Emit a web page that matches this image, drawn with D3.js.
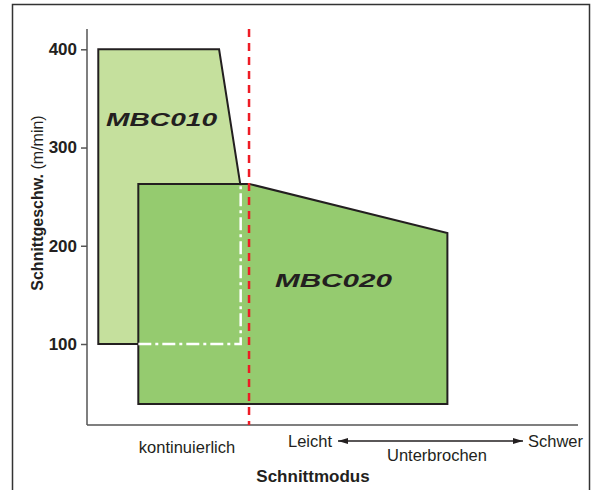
<!DOCTYPE html>
<html>
<head>
<meta charset="utf-8">
<script src="https://cdn.jsdelivr.net/npm/d3@7"></script>
<style>
  body { margin: 0; background: #fff; }
  svg text { font-family: "Liberation Sans", Arial, sans-serif; fill: #231f20; }
</style>
</head>
<body>
<div id="chart"></div>
<script>
// Chart values (x in arbitrary "Schnittmodus" units 0-100, y in m/min)
const yTicks = [100, 200, 300, 400];
const mbc010 = [[2.3, 400], [26.9, 400], [31.2, 263], [31.2, 100], [2.3, 100]];
const mbc020 = [[10.45, 263], [33.0, 263], [73.4, 213], [73.4, 39], [10.45, 39]];
const hiddenEdge = [[10.45, 100], [31.3, 100], [31.3, 263]];
const splitX = 33.0;
const seriesNames = ["MBC010", "MBC020"];
const labelPos = [[15.2, 322], [50.2, 158]];

const width = 591;
const height = 490;

const svg = d3.select('#chart').append('svg')
    .attr('width', width)
    .attr('height', height);

// outer frame
svg.append('rect')
    .attr('x', 12.5).attr('y', 4.5)
    .attr('width', 577).attr('height', 500)
    .attr('fill', 'none')
    .attr('stroke', '#333')
    .attr('stroke-width', 1.5);

const x = d3.scaleLinear().domain([0, 100]).range([87, 578]);
const y = d3.scaleLinear().domain([100, 400]).range([344, 49.3]);
const yTop = 29, yBottom = 425;

const line = d3.line().x(d => x(d[0])).y(d => y(d[1]));

// MBC010 area (behind)
svg.append('path')
    .attr('d', line(mbc010) + 'Z')
    .attr('fill', '#c5e09d')
    .attr('stroke', '#231f20')
    .attr('stroke-width', 2)
    .attr('stroke-linejoin', 'miter');

// MBC020 area (front)
svg.append('path')
    .attr('d', line(mbc020) + 'Z')
    .attr('fill', '#95cb6f')
    .attr('stroke', '#231f20')
    .attr('stroke-width', 2)
    .attr('stroke-linejoin', 'miter');

// hidden MBC010 boundary as white dash-dot
svg.append('path')
    .attr('d', line(hiddenEdge))
    .attr('fill', 'none')
    .attr('stroke', '#fff')
    .attr('stroke-width', 2.5)
    .attr('stroke-dasharray', '13,4,3,4');

// y axis
const yAxis = d3.axisLeft(y)
    .tickValues(yTicks)
    .tickSize(6)
    .tickPadding(4)
    .tickFormat(d3.format('d'));

const gy = svg.append('g')
    .attr('transform', `translate(${x(0)},0)`)
    .call(yAxis);
gy.select('.domain').remove();
gy.append('line')
    .attr('x1', 0).attr('x2', 0)
    .attr('y1', yTop).attr('y2', yBottom)
    .attr('stroke', '#555').attr('stroke-width', 1.5);
gy.selectAll('.tick line').attr('stroke', '#555').attr('stroke-width', 1.5);
gy.selectAll('.tick text')
    .style('font-family', '"Liberation Sans", Arial, sans-serif')
    .style('font-size', '17px')
    .style('font-weight', 'bold')
    .attr('fill', '#231f20');

// x axis line
svg.append('line')
    .attr('x1', x(0)).attr('x2', x(100))
    .attr('y1', yBottom).attr('y2', yBottom)
    .attr('stroke', '#555').attr('stroke-width', 1.5);

// red split line
svg.append('line')
    .attr('x1', x(splitX)).attr('x2', x(splitX))
    .attr('y1', yTop).attr('y2', yBottom)
    .attr('stroke', '#ee1c25')
    .attr('stroke-width', 2.5)
    .attr('stroke-dasharray', '8,6');

// series labels
svg.selectAll('.series-label')
    .data(seriesNames)
    .enter().append('text')
    .attr('class', 'series-label')
    .attr('x', (d, i) => x(labelPos[i][0]))
    .attr('y', (d, i) => y(labelPos[i][1]))
    .attr('text-anchor', 'middle')
    .attr('textLength', (d, i) => i ? 117 : 111)
    .attr('lengthAdjust', 'spacingAndGlyphs')
    .style('font-size', '18px')
    .style('font-weight', 'bold')
    .style('font-style', 'italic')
    .text(d => d);

// y axis title
const yTitle = svg.append('text')
    .attr('transform', 'translate(43,203) rotate(-90)')
    .attr('text-anchor', 'middle')
    .style('font-size', '16px');
yTitle.append('tspan').style('font-weight', 'bold').text('Schnittgeschw.');
yTitle.append('tspan').text(' (m/min)');

// x axis annotations
svg.append('text')
    .attr('x', 187).attr('y', 453)
    .attr('text-anchor', 'middle')
    .style('font-size', '16.5px')
    .text('kontinuierlich');

svg.append('text')
    .attr('x', 332).attr('y', 447)
    .attr('text-anchor', 'end')
    .style('font-size', '16.5px')
    .text('Leicht');

svg.append('text')
    .attr('x', 528).attr('y', 447)
    .style('font-size', '16.5px')
    .text('Schwer');

svg.append('text')
    .attr('x', 437).attr('y', 461)
    .attr('text-anchor', 'middle')
    .style('font-size', '16.5px')
    .text('Unterbrochen');

svg.append('text')
    .attr('x', 313).attr('y', 482)
    .attr('text-anchor', 'middle')
    .style('font-size', '17px')
    .style('font-weight', 'bold')
    .text('Schnittmodus');

// double-headed arrow
const defs = svg.append('defs');
['start', 'end'].forEach(k => {
    defs.append('marker')
        .attr('id', 'arrow-' + k)
        .attr('viewBox', '0 0 10 6')
        .attr('refX', k === 'end' ? 10 : 0)
        .attr('refY', 3)
        .attr('markerWidth', 10)
        .attr('markerHeight', 6)
        .attr('markerUnits', 'userSpaceOnUse')
        .attr('orient', 'auto')
        .append('path')
        .attr('d', k === 'end' ? 'M0,0L10,3L0,6Z' : 'M10,0L0,3L10,6Z')
        .attr('fill', '#231f20');
});
svg.append('line')
    .attr('x1', 338).attr('x2', 523)
    .attr('y1', 441).attr('y2', 441)
    .attr('stroke', '#231f20')
    .attr('stroke-width', 1.5)
    .attr('marker-start', 'url(#arrow-start)')
    .attr('marker-end', 'url(#arrow-end)');
</script>
</body>
</html>
